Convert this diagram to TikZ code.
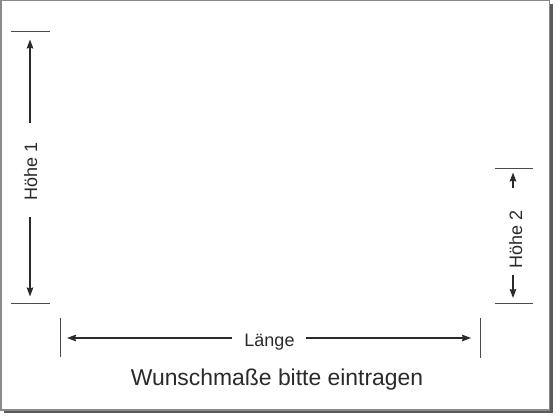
\documentclass[tikz,border=0pt]{standalone}
\usepackage{fontspec}
\setmainfont{Liberation Sans}
\usetikzlibrary{arrows.meta}
\definecolor{framegray}{HTML}{8A8A8A}
\definecolor{shadowgray}{HTML}{5A5A5A}
\definecolor{inkdark}{HTML}{2A2A2A}
\definecolor{tickgray}{HTML}{4A4A4A}
\begin{document}
\begin{tikzpicture}[x=1pt,y=-1pt,
  tickline/.style={draw=tickgray,line width=0.9pt},
  dimarrow/.style={draw=inkdark,line width=1.5pt,-{Stealth[length=9pt,width=6.5pt,inset=1pt]}},
  dimlabel/.style={text=inkdark,font=\fontsize{18}{20}\selectfont,inner sep=0pt},
  titlelabel/.style={text=inkdark,font=\fontsize{22.9}{25}\selectfont,inner sep=0pt}]
\useasboundingbox (0,0) rectangle (560,420);
% shadow and frame
\fill[shadowgray] (4,4) rectangle (553,413);
\draw[framegray,fill=white,line width=1.5pt] (0.75,0.75) rectangle (549.5,410);
% Hoehe 1
\draw[tickline] (11,31) -- (50,31);
\draw[tickline] (11,303) -- (50,303);
\coordinate (h1top) at (30,39.5);
\coordinate (h1bot) at (30,296.5);
\coordinate (h1a) at (30,123);
\coordinate (h1b) at (30,217);
\node[dimlabel,rotate=90,anchor=base] (h1) at (37,171) {Höhe 1};
\draw[dimarrow] (h1a) -- (h1top);
\draw[dimarrow] (h1b) -- (h1bot);
% Hoehe 2
\draw[tickline] (495,168) -- (533,168);
\draw[tickline] (495,303) -- (533,303);
\coordinate (h2top) at (513,172.5);
\coordinate (h2bot) at (513,298);
\coordinate (h2a) at (513,188);
\coordinate (h2b) at (513,275);
\node[dimlabel,rotate=90,anchor=base] (h2) at (522,239) {Höhe 2};
\draw[dimarrow] (h2a) -- (h2top);
\draw[dimarrow] (h2b) -- (h2bot);
% Laenge
\draw[tickline] (60,318) -- (60,357);
\draw[tickline] (480,318) -- (480,358);
\coordinate (lleft) at (67,338);
\coordinate (lright) at (471,338);
\coordinate (la) at (232,338);
\coordinate (lb) at (306,338);
\node[dimlabel,anchor=base] (laenge) at (269.5,346) {Länge};
\draw[dimarrow] (la) -- (lleft);
\draw[dimarrow] (lb) -- (lright);
% title
\node[titlelabel,anchor=base] (title) at (277,385) {Wunschmaße bitte eintragen};
\end{tikzpicture}
\end{document}
